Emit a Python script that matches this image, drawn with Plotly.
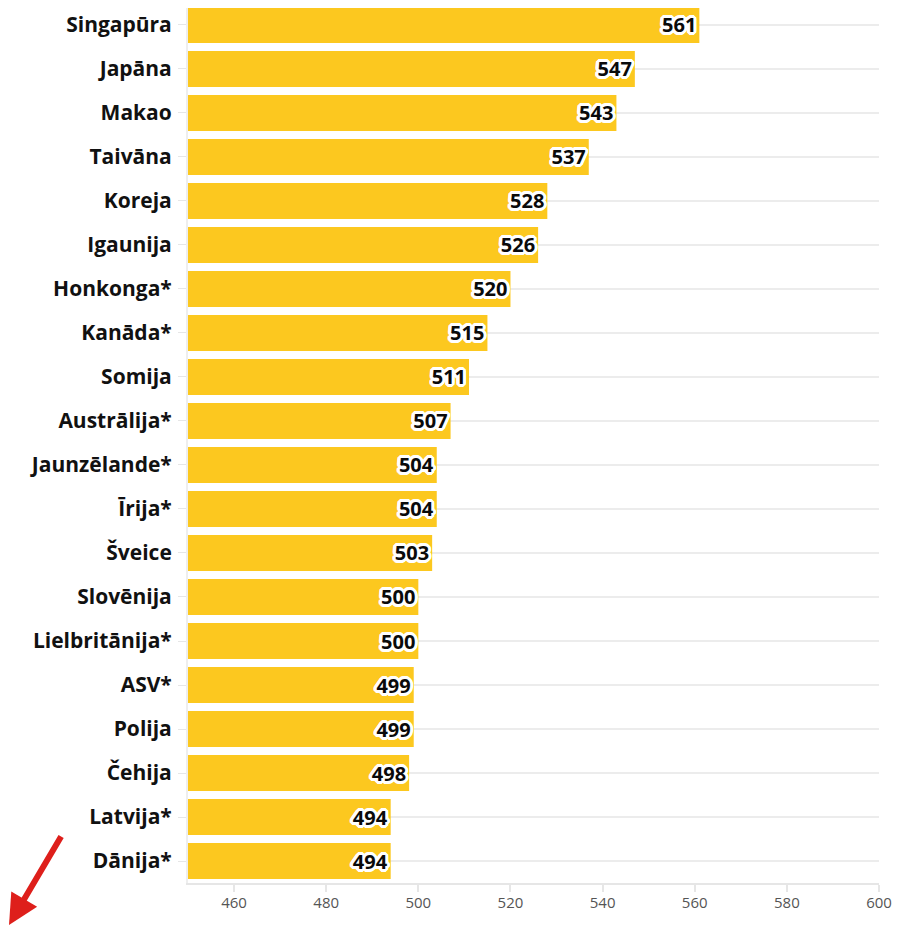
import plotly.graph_objects as go

countries = ["Singapūra", "Japāna", "Makao", "Taivāna", "Koreja", "Igaunija",
             "Honkonga*", "Kanāda*", "Somija", "Austrālija*", "Jaunzēlande*",
             "Īrija*", "Šveice", "Slovēnija", "Lielbritānija*", "ASV*", "Polija",
             "Čehija", "Latvija*", "Dānija*"]
scores = [561, 547, 543, 537, 528, 526, 520, 515, 511, 507, 504, 504, 503,
          500, 500, 499, 499, 498, 494, 494]
x_ticks = [460, 480, 500, 520, 540, 560, 580, 600]

sh = []
for dx, dy in [(2, 0), (-2, 0), (0, 2), (0, -2), (2, 2), (-2, -2), (2, -2), (-2, 2),
               (3, 0), (-3, 0), (0, 3), (0, -3), (1, 3), (-1, 3), (1, -3), (-1, -3),
               (3, 1), (3, -1), (-3, 1), (-3, -1)]:
    sh.append(f"{dx}px {dy}px 0 white")
outline = ", ".join(sh)

fig = go.Figure(go.Bar(
    y=countries,
    x=[s - 450 for s in scores],
    base=450,
    orientation="h",
    marker=dict(color="#FCC81F", line=dict(width=0)),
    text=[str(s) for s in scores],
    textposition="inside",
    insidetextanchor="end",
    textangle=0,
    textfont=dict(family="Open Sans", size=20, color="#0a0a0a", weight="bold",
                  shadow=outline),
    cliponaxis=False,
    hoverinfo="skip",
))

fig.update_layout(
    width=894, height=919,
    margin=dict(l=180, r=23, t=0, b=44),
    paper_bgcolor="white", plot_bgcolor="white",
    bargap=0.18,
    showlegend=False,
    font=dict(family="Open Sans"),
    xaxis=dict(
        range=[450, 600], tickvals=x_ticks, showgrid=False, zeroline=False,
        showline=True, linecolor="#e6e6e6", linewidth=2,
        ticks="outside", ticklen=7, tickcolor="#e6e6e6", tickwidth=2,
        tickfont=dict(family="Open Sans", size=15, color="#555555"),
        ticklabelstandoff=-2,
    ),
    yaxis=dict(
        categoryorder="array", categoryarray=countries,
        range=[19.5, -0.386],
        showgrid=True, gridcolor="#ececec", gridwidth=2,
        showline=True, linecolor="#eeeeee", linewidth=2,
        ticks="outside", ticklen=8, tickcolor="#e6e6e6", tickwidth=1,
        tickfont=dict(family="Open Sans", size=21, color="#111111", weight="bold"),
        ticklabelstandoff=2,
    ),
    annotations=[dict(
        xref="paper", yref="paper", x=-0.2634, y=-0.048,
        ax=56, ay=-90, axref="pixel", ayref="pixel",
        text="", showarrow=True, arrowhead=2, arrowsize=1.0, arrowwidth=6,
        arrowcolor="#DE1F1B", standoff=0,
    )],
)

fig.write_html("out.html")
